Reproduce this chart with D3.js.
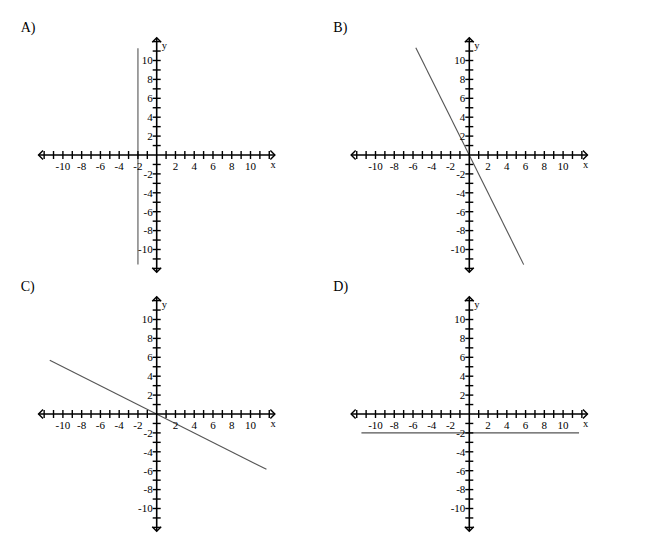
<!DOCTYPE html>
<html>
<head>
<meta charset="utf-8">
<script src="https://cdn.jsdelivr.net/npm/d3@7"></script>
<style>
  body { margin: 0; background: #fff; }
</style>
</head>
<body>
<div id="chart"></div>
<script>
// answer choices, one graph per panel
var panelNames = ["A)", "B)", "C)", "D)"];
// each graphed line as [x, y] start and end in graph units
var lineStart = [[-2, 11.3], [-5.7, 11.35], [-11.4, 5.7], [-11.5, -2]];
var lineEnd   = [[-2, -11.6], [5.8, -11.6], [11.7, -5.85], [11.7, -2]];

var tickValues = d3.range(-12, 13).filter(function(d) { return d !== 0; });
var tickLabels = [-10, -8, -6, -4, -2, 2, 4, 6, 8, 10];
var axisMax = 12.6;
var axisMaxY = 12.4;

var W = 650, H = 536;
var svg = d3.select("#chart").append("svg")
    .attr("width", W)
    .attr("height", H)
    .attr("font-family", "'Times New Roman', 'Liberation Serif', 'DejaVu Serif', serif");

// origin of panel A, offsets of other panels
var ox = 156.7, oy = 155;
var dx = 312.6, dy = 259;
var unitX = 9.38, unitY = 9.45;

panelNames.forEach(function(name, i) {
    var cx = ox + (i % 2) * dx;
    var cy = oy + Math.floor(i / 2) * dy;

    var x = d3.scaleLinear().domain([0, 1]).range([cx, cx + unitX]);
    var y = d3.scaleLinear().domain([0, 1]).range([cy, cy - unitY]);

    var g = svg.append("g");

    g.append("text")
        .attr("x", cx - 136)
        .attr("y", cy - 123)
        .attr("font-size", 14)
        .text(name);

    // the answer's line, drawn first so the axes sit on top
    g.append("line")
        .attr("x1", x(lineStart[i][0]))
        .attr("y1", y(lineStart[i][1]))
        .attr("x2", x(lineEnd[i][0]))
        .attr("y2", y(lineEnd[i][1]))
        .attr("stroke", "#555")
        .attr("stroke-width", 1.1);

    // axes
    g.append("line")
        .attr("x1", x(-axisMax)).attr("x2", x(axisMax))
        .attr("y1", cy).attr("y2", cy)
        .attr("stroke", "#000").attr("stroke-width", 1.6);
    g.append("line")
        .attr("x1", cx).attr("x2", cx)
        .attr("y1", y(axisMaxY)).attr("y2", y(-axisMaxY))
        .attr("stroke", "#000").attr("stroke-width", 1.6);

    // arrow heads
    var a = 4.5;
    var arrows = [
        [[x(axisMax) - a, cy - a], [x(axisMax), cy], [x(axisMax) - a, cy + a]],
        [[x(-axisMax) + a, cy - a], [x(-axisMax), cy], [x(-axisMax) + a, cy + a]],
        [[cx - a, y(axisMaxY) + a], [cx, y(axisMaxY)], [cx + a, y(axisMaxY) + a]],
        [[cx - a, y(-axisMaxY) - a], [cx, y(-axisMaxY)], [cx + a, y(-axisMaxY) - a]]
    ];
    g.selectAll(".arrow")
        .data(arrows)
        .enter().append("path")
        .attr("d", d3.line())
        .attr("fill", "none")
        .attr("stroke", "#000")
        .attr("stroke-width", 1.4);

    // tick marks crossing the axes
    g.selectAll(".xtick")
        .data(tickValues)
        .enter().append("line")
        .attr("x1", function(d) { return x(d); })
        .attr("x2", function(d) { return x(d); })
        .attr("y1", cy - 4).attr("y2", cy + 4)
        .attr("stroke", "#000").attr("stroke-width", 1.4);
    g.selectAll(".ytick")
        .data(tickValues)
        .enter().append("line")
        .attr("y1", function(d) { return y(d); })
        .attr("y2", function(d) { return y(d); })
        .attr("x1", cx - 4).attr("x2", cx + 4)
        .attr("stroke", "#000").attr("stroke-width", 1.4);

    // tick labels
    g.selectAll(".xlab")
        .data(tickLabels)
        .enter().append("text")
        .attr("x", function(d) { return x(d); })
        .attr("y", cy + 15)
        .attr("text-anchor", "middle")
        .attr("font-size", 11)
        .text(function(d) { return d; });
    g.selectAll(".ylab")
        .data(tickLabels)
        .enter().append("text")
        .attr("x", cx - 4)
        .attr("y", function(d) { return y(d) + 3.8; })
        .attr("text-anchor", "end")
        .attr("font-size", 11)
        .text(function(d) { return d; });

    g.append("text")
        .attr("x", x(12.4))
        .attr("y", cy + 13)
        .attr("text-anchor", "middle")
        .attr("font-size", 10.5)
        .text("x");
    g.append("text")
        .attr("x", cx + 5)
        .attr("y", y(11.2))
        .attr("font-size", 10.5)
        .text("y");
});
</script>
</body>
</html>
